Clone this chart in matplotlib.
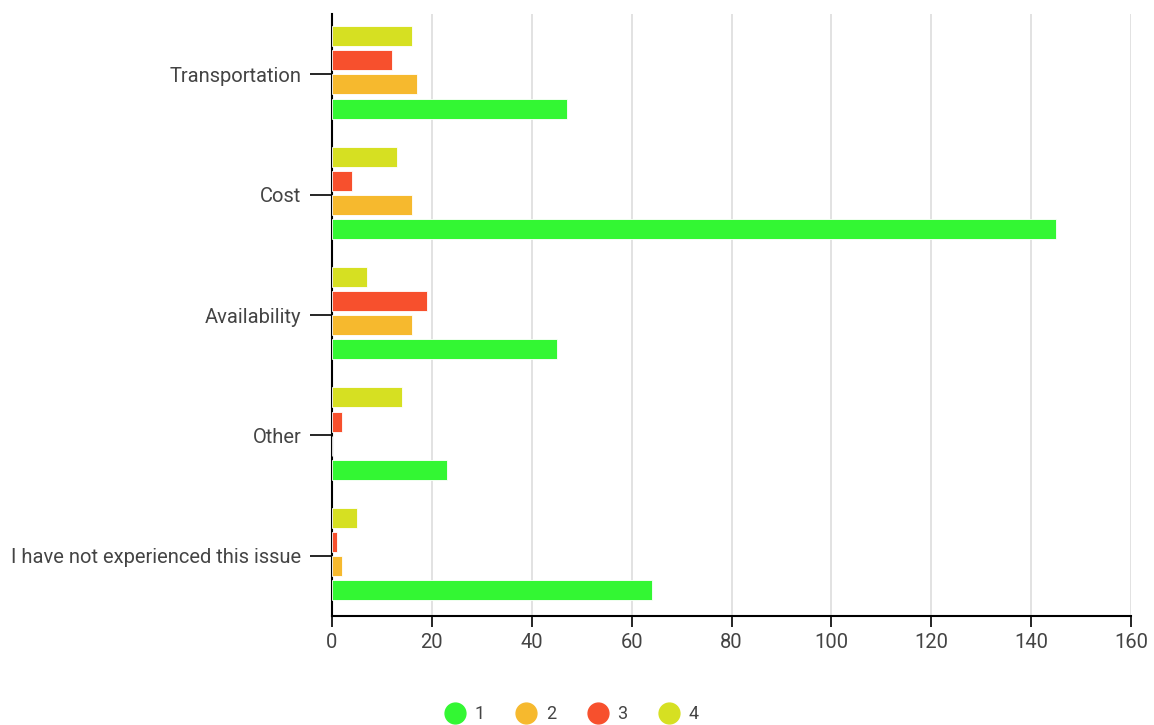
import numpy as np
import matplotlib.pyplot as plt
from matplotlib.lines import Line2D

categories = ['Transportation', 'Cost', 'Availability', 'Other',
              'I have not experienced this issue']
series_names = ['1', '2', '3', '4']
values_1 = [47, 145, 45, 23, 64]
values_2 = [17, 16, 16, 0, 2]
values_3 = [12, 4, 19, 2, 1]
values_4 = [16, 13, 7, 14, 5]
x_ticks = [0, 20, 40, 60, 80, 100, 120, 140, 160]

colors = ['#33f733', '#f6b92e', '#f7502d', '#d6e022']

plt.rcParams['font.family'] = ['Roboto', 'DejaVu Sans']
text_color = '#444444'

fig = plt.figure(figsize=(11.54, 7.25), dpi=100)
ax = fig.add_axes([0.2877, 0.1503, 0.6924, 0.8304])

y = np.arange(len(categories))
step = 0.2
height = 0.166
all_series = [values_1, values_2, values_3, values_4]
for j, vals in enumerate(all_series):
    offset = (1.5 - j) * step - 0.015
    ax.barh(y + offset, vals, height=height, color=colors[j],
            edgecolor='white', linewidth=0.6, zorder=3)

ax.set_ylim(len(categories) - 0.5, -0.5)
ax.set_xlim(0, 160)
ax.set_xticks(x_ticks)
ax.set_yticks(y)
ax.set_yticklabels(categories)
ax.tick_params(axis='y', length=16, width=1.2, color='black',
               labelsize=14.5, labelcolor=text_color, pad=6)
ax.tick_params(axis='x', length=8, width=1.2, color='black',
               labelsize=14.5, labelcolor=text_color, pad=4)

ax.xaxis.grid(True, color='#dddddd', linewidth=1.2, zorder=0)
ax.set_axisbelow(True)
for side in ['top', 'right']:
    ax.spines[side].set_visible(False)
for side in ['left', 'bottom']:
    ax.spines[side].set_linewidth(1.5)
    ax.spines[side].set_color('black')

handles = [Line2D([], [], marker='o', linestyle='', markersize=15,
                  markerfacecolor=c, markeredgecolor=c) for c in colors]
fig.legend(handles, series_names, loc='lower center', ncol=4,
           bbox_to_anchor=(0.492, -0.02), frameon=False, fontsize=13,
           labelcolor=text_color, handletextpad=0.1, columnspacing=1.3)

fig.savefig('out.png', dpi=100)
